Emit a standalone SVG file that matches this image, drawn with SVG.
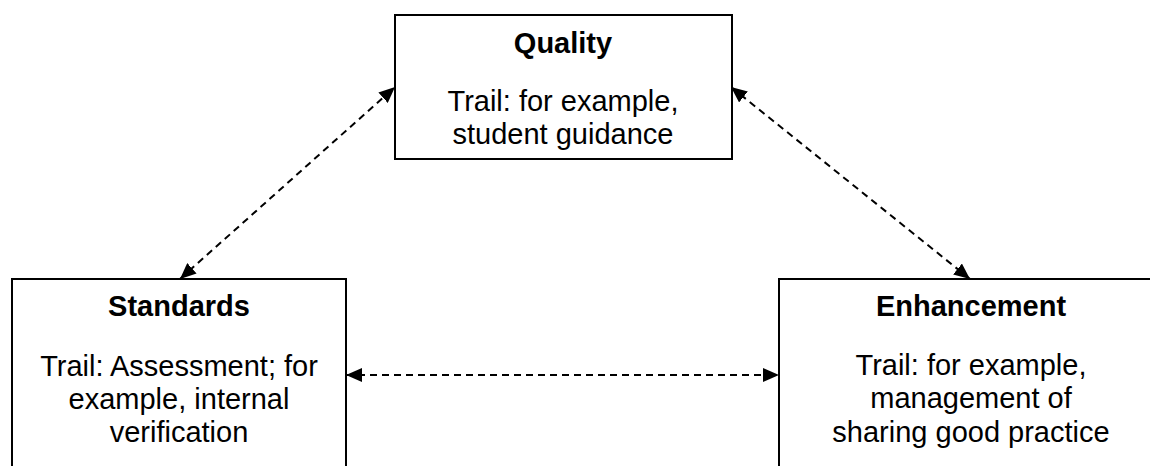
<svg xmlns="http://www.w3.org/2000/svg" width="1150" height="466" viewBox="0 0 1150 466">
<style>
.box{fill:#fff;stroke:#000;stroke-width:2}
.t{font-family:"Liberation Sans",Arial,sans-serif;font-size:29px;fill:#000;text-anchor:middle}
.b{font-weight:bold}
.c{stroke:#000;stroke-width:2;stroke-dasharray:7 5;fill:none}
</style>
<defs>
<marker id="ah" markerUnits="userSpaceOnUse" markerWidth="18" markerHeight="14" refX="16" refY="7" orient="auto-start-reverse">
<path d="M0,0 L16,7 L0,14 Z" fill="#000"/>
</marker>
</defs>
<rect width="1150" height="466" fill="#fff"/>
<g id="connectors">
<line class="c" x1="180" y1="279" x2="395" y2="87" marker-start="url(#ah)" marker-end="url(#ah)"/>
<line class="c" x1="731" y1="87" x2="970" y2="279" marker-start="url(#ah)" marker-end="url(#ah)"/>
<line class="c" x1="346" y1="375" x2="779" y2="375" marker-start="url(#ah)" marker-end="url(#ah)"/>
</g>
<g id="quality">
<rect class="box" x="395" y="15" width="337" height="144"/>
<text class="t b" x="563" y="53">Quality</text>
<text class="t" x="563" y="111">Trail: for example,</text>
<text class="t" x="563" y="144">student guidance</text>
</g>
<g id="standards">
<rect class="box" x="12" y="279" width="334" height="200"/>
<text class="t b" x="179" y="316">Standards</text>
<text class="t" x="179" y="376">Trail: Assessment; for</text>
<text class="t" x="179" y="409">example, internal</text>
<text class="t" x="179" y="442">verification</text>
</g>
<g id="enhancement">
<rect class="box" x="779" y="279" width="390" height="200"/>
<text class="t b" x="971" y="316">Enhancement</text>
<text class="t" x="971" y="375">Trail: for example,</text>
<text class="t" x="971" y="408">management of</text>
<text class="t" x="971" y="442">sharing good practice</text>
</g>
</svg>
